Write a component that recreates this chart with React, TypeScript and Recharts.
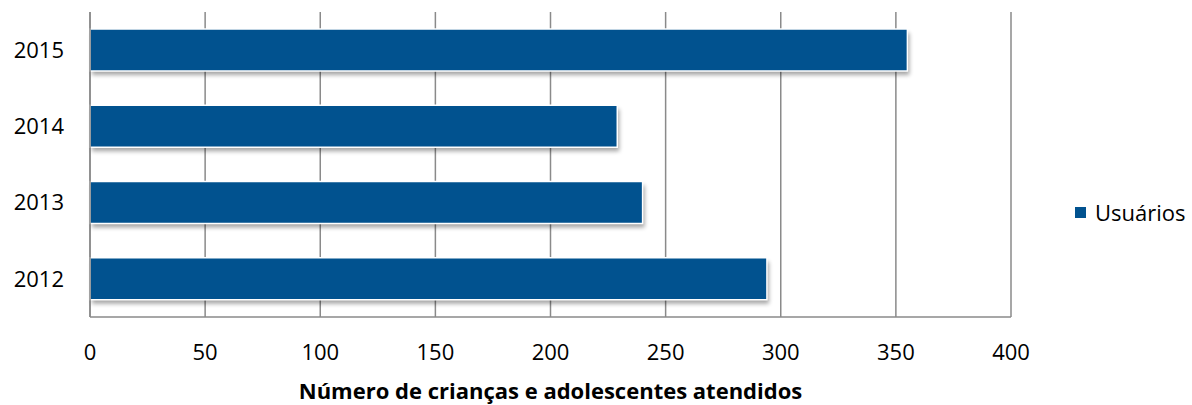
import React from 'react';
import { BarChart, Bar, XAxis, YAxis, CartesianGrid, Legend } from 'recharts';

const years = ['2012', '2013', '2014', '2015'];
const usuarios = [294, 240, 229, 355];
const xTicks = [0, 50, 100, 150, 200, 250, 300, 350, 400];
const seriesName = 'Usuários';
const xTitle = 'Número de crianças e adolescentes atendidos';

const data = years.map((y, i) => ({ year: y, usuarios: usuarios[i] }));

const BAR_COLOR = '#01528F';
const GRID = '#8A8A8A';
const FONT = '"Open Sans", sans-serif';

const ShadowBar = (props: any) => {
  const { x, y, width, height, fill } = props;
  return (
    <g>
      <defs>
        <filter id="barShadow" x="-10%" y="-50%" width="130%" height="250%">
          <feGaussianBlur stdDeviation="2.2" />
        </filter>
      </defs>
      <rect x={x + 2} y={y + 4} width={width} height={height} fill="#000" opacity={0.35} filter="url(#barShadow)" />
      <rect x={x} y={y} width={width} height={height} fill={fill} stroke="#ffffff" strokeWidth={1.5} />
    </g>
  );
};

const LegendContent = () => (
  <div style={{ display: 'flex', alignItems: 'center', fontFamily: FONT, fontSize: 22, color: '#000', whiteSpace: 'nowrap' }}>
    <span style={{ display: 'inline-block', width: 11, height: 11, background: BAR_COLOR, marginRight: 9 }} />
    <span>{seriesName}</span>
  </div>
);

export default function App() {
  return (
    <div style={{ position: 'absolute', left: 0, top: 0, width: 1192, height: 405, background: '#fff' }}>
      <BarChart
        width={1192}
        height={405}
        data={data}
        layout="vertical"
        margin={{ top: 12, right: 64, bottom: 0, left: 0 }}
        barSize={42}
      >
        <CartesianGrid horizontal={false} vertical={true} stroke={GRID} strokeWidth={1.5} />
        <XAxis
          type="number"
          domain={[0, 400]}
          ticks={xTicks}
          interval={0}
          height={88}
          axisLine={{ stroke: GRID, strokeWidth: 1.5 }}
          tickLine={false}
          tickSize={0}
          tickMargin={27}
          tick={{ fill: '#000', fontSize: 22, fontFamily: FONT }}
          label={{ value: xTitle, position: 'insideBottom', offset: 6, fill: '#000', fontSize: 22, fontWeight: 700, fontFamily: FONT }}
        />
        <YAxis
          type="category"
          dataKey="year"
          reversed
          width={90}
          axisLine={{ stroke: GRID, strokeWidth: 1.5 }}
          tickLine={false}
          tickSize={0}
          tickMargin={26}
          tick={{ fill: '#000', fontSize: 22, fontFamily: FONT }}
        />
        <Legend
          layout="horizontal"
          verticalAlign="middle"
          align="right"
          content={<LegendContent />}
          wrapperStyle={{ left: 1075, top: 197, width: 117, height: 30 }}
        />
        <Bar dataKey="usuarios" name={seriesName} fill={BAR_COLOR} shape={<ShadowBar />} isAnimationActive={false} />
      </BarChart>
    </div>
  );
}
